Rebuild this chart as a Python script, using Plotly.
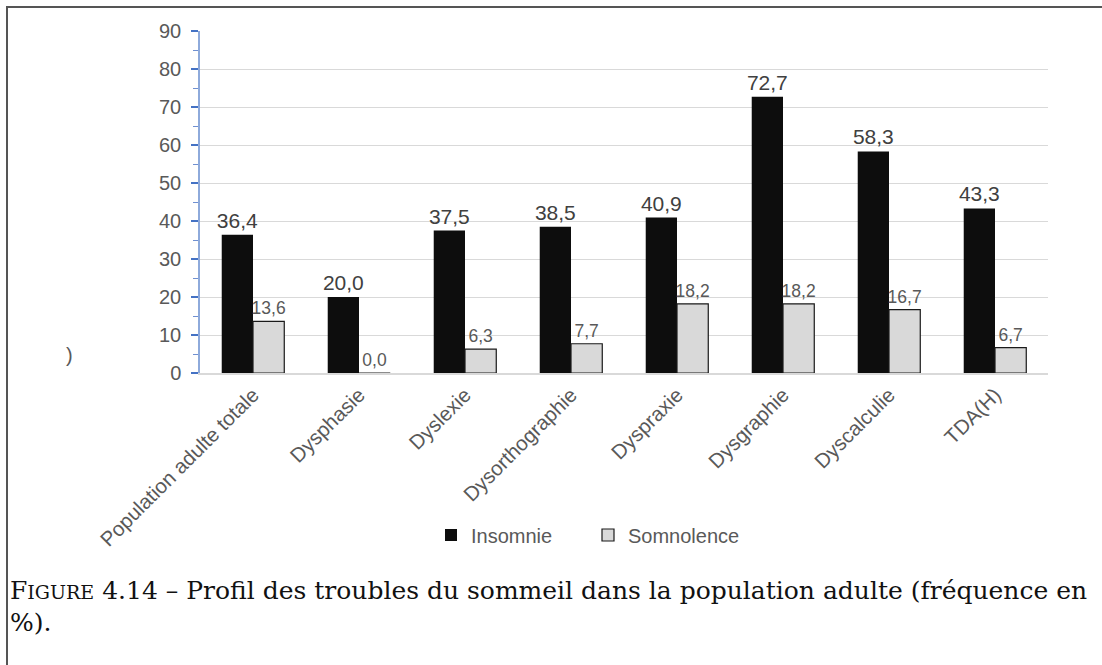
import plotly.graph_objects as go

categories = ["Population adulte totale", "Dysphasie", "Dyslexie", "Dysorthographie",
              "Dyspraxie", "Dysgraphie", "Dyscalculie", "TDA(H)"]
insomnie = [36.4, 20.0, 37.5, 38.5, 40.9, 72.7, 58.3, 43.3]
somnolence = [13.6, 0.0, 6.3, 7.7, 18.2, 18.2, 16.7, 6.7]
y_ticks = [0, 10, 20, 30, 40, 50, 60, 70, 80, 90]

W, H = 1102, 665
L, R, T, B = 200, 54, 31, 292
PW, PH = W - L - R, H - T - B


def px(x):
    return (x - L) / PW


def py(y):
    return (H - B - y) / PH


def fmt(v):
    return f"{v:.1f}".replace(".", ",")


fig = go.Figure()
fig.add_trace(go.Bar(
    name="Insomnie", x=categories, y=insomnie,
    marker=dict(color="#0d0d0d", line=dict(color="#0d0d0d", width=0)),
    text=[fmt(v) for v in insomnie], textposition="outside", constraintext="none",
    textfont=dict(size=21, color="#404040", family="Liberation Sans"),
    cliponaxis=False,
))
fig.add_trace(go.Bar(
    name="Somnolence", x=categories, y=somnolence,
    marker=dict(color="#d9d9d9", line=dict(color="#1a1a1a", width=1.2)),
    text=[fmt(v) for v in somnolence], textposition="outside", constraintext="none",
    textfont=dict(size=17.5, color="#595959", family="Liberation Sans"),
    cliponaxis=False,
))

shapes = [
    dict(type="line", xref="paper", yref="paper", x0=px(6), x1=px(W + 5), y0=py(7), y1=py(7),
         line=dict(color="#555555", width=2)),
    dict(type="line", xref="paper", yref="paper", x0=px(7), x1=px(7), y0=py(6), y1=py(H + 5),
         line=dict(color="#555555", width=2)),
]

annotations = [
    dict(xref="paper", yref="paper", x=px(64), y=py(355), text=")", showarrow=False,
         font=dict(size=20, color="#595959", family="Liberation Sans"), xanchor="left", yanchor="middle"),
    dict(xref="paper", yref="paper", x=px(8), y=py(590),
         text="F<span style='font-size:19px'>IGURE</span> 4.14 – Profil des troubles du sommeil dans la population adulte (fréquence en",
         showarrow=False, xanchor="left", yanchor="middle",
         font=dict(size=25, color="#111111", family="DejaVu Serif")),
    dict(xref="paper", yref="paper", x=px(8), y=py(622), text="%).",
         showarrow=False, xanchor="left", yanchor="middle",
         font=dict(size=25, color="#111111", family="DejaVu Serif")),
]

fig.update_layout(
    width=W, height=H,
    margin=dict(l=L, r=R, t=T, b=B),
    paper_bgcolor="white", plot_bgcolor="white",
    barmode="group", bargap=0.41, bargroupgap=0,
    font=dict(family="Liberation Sans", color="#595959"),
    showlegend=True,
    legend=dict(orientation="h", x=px(431), y=py(535), xanchor="left", yanchor="middle",
                font=dict(size=20, color="#595959"), itemwidth=30,
                entrywidth=112, entrywidthmode="pixels",
                bgcolor="rgba(0,0,0,0)"),
    shapes=shapes,
    annotations=annotations,
)
fig.update_xaxes(
    tickangle=-45, tickfont=dict(size=20.5, color="#595959"),
    showline=True, linecolor="#d9d9d9", linewidth=1.5, ticks="", showgrid=False,
)
fig.update_yaxes(
    range=[0, 90], tickvals=y_ticks, ticktext=[str(v) for v in y_ticks],
    tickfont=dict(size=20, color="#595959"),
    showgrid=True, gridcolor="#d9d9d9", gridwidth=1,
    showline=True, linecolor="#8eaadb", linewidth=1.5,
    ticks="outside", ticklen=7, tickcolor="#4472c4", tickwidth=1.5,
    minor=dict(dtick=5, ticks="outside", ticklen=5, tickcolor="#6f8fd0", tickwidth=1, showgrid=False),
    zeroline=False, ticklabelstandoff=6,
)

fig.write_html("out.html", config={"displayModeBar": False},
               post_script="document.body.style.margin='0';")
